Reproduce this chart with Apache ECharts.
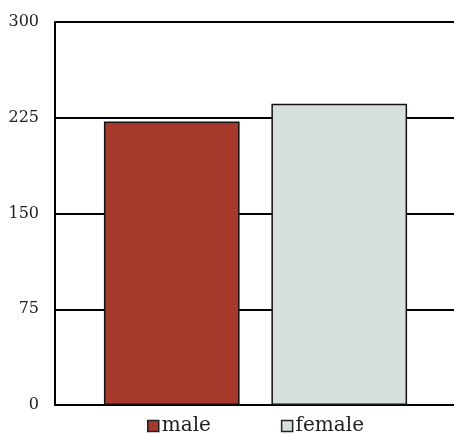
<!DOCTYPE html>
<html><head><meta charset="utf-8">
<script src="https://cdn.jsdelivr.net/npm/echarts@6/dist/echarts.min.js"></script>
<style>html,body{margin:0;padding:0;background:#fff}#c{width:454px;height:434px}</style>
</head><body><div id="c"></div>
<script>
const categories = ['male', 'female'];
const values = [222, 236];
const colors = ['#a53a2c', '#d5e1da'];
const yTicks = [0, 75, 150, 225, 300];

const chart = echarts.init(document.getElementById('c'));
const font = '"DejaVu Serif", "Liberation Serif", serif';
chart.setOption({
  animation: false,
  backgroundColor: '#fff',
  grid: [
    {left: 55, right: 0, top: 22, bottom: 29},
    {left: 88, right: 31, top: 22, bottom: 29}
  ],
  xAxis: [
    {gridIndex: 0, type: 'category', data: [''], show: true,
     axisLine: {show: true, lineStyle: {color: '#000', width: 2}},
     axisTick: {show: false}, axisLabel: {show: false}},
    {gridIndex: 1, type: 'category', data: categories, show: false}
  ],
  yAxis: [
    {gridIndex: 0, type: 'value', min: yTicks[0], max: yTicks[yTicks.length-1], interval: 75,
     axisLine: {show: true, lineStyle: {color: '#000', width: 2}},
     axisTick: {show: false},
     axisLabel: {color: '#222', fontFamily: font, fontSize: 16, margin: 16},
     splitLine: {show: true, lineStyle: {color: '#000', width: 2}}},
    {gridIndex: 1, type: 'value', min: 0, max: 300, interval: 75, show: false}
  ],
  legend: {
    top: 411, left: 142, itemGap: 70, itemWidth: 11, itemHeight: 11, icon: 'rect',
    itemStyle: {borderColor: '#222', borderWidth: 1.5},
    textStyle: {fontFamily: font, fontSize: 20, color: '#222', padding: [0,0,0,-2]},
    data: categories
  },
  series: categories.map((c, i) => ({
    name: c, type: 'bar', xAxisIndex: 1, yAxisIndex: 1,
    data: categories.map((cc, j) => j === i ? values[i] : '-'),
    barWidth: '81%', barGap: '-100%',
    itemStyle: {color: colors[i], borderColor: '#111', borderWidth: 1.5}
  }))
});
</script></body></html>
